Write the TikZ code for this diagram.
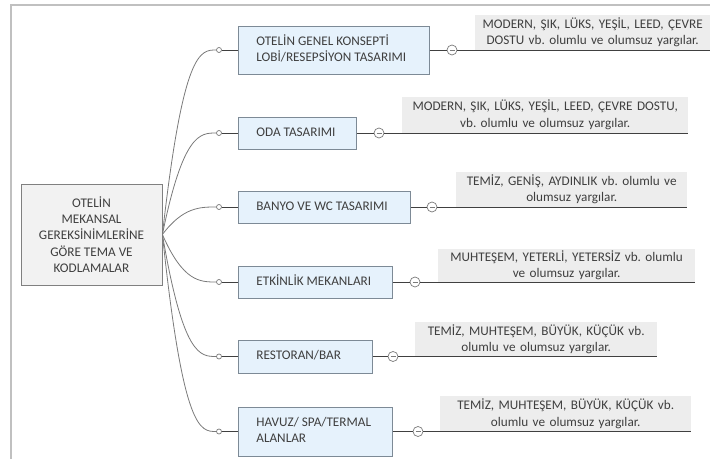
\documentclass[tikz,border=0pt]{standalone}
\usepackage{fontspec}
\setmainfont{Carlito}
\usetikzlibrary{calc}
\frenchspacing
\definecolor{txt}{HTML}{3F3F3F}
\definecolor{framec}{HTML}{C0C0C0}
\definecolor{bluefill}{HTML}{E6F2FC}
\definecolor{bluedraw}{HTML}{7D8A96}
\definecolor{centfill}{HTML}{F2F2F2}
\definecolor{centdraw}{HTML}{808080}
\definecolor{gfill}{HTML}{EDEDED}
\definecolor{curvec}{HTML}{7A7A7A}
\definecolor{linec}{HTML}{404040}
\newcommand\bltext[2]{\makebox[#1][l]{\hspace{18bp}\begin{tabular}{@{}l@{}}#2\end{tabular}}}
\tikzset{
  every node/.style={font=\fontsize{13.2bp}{16.2bp}\selectfont, text=txt},
  centbox/.style={draw=centdraw, fill=centfill, align=center, inner sep=0pt,
    minimum width=141bp, minimum height=101bp, line width=0.8bp},
  bluebox/.style={draw=bluedraw, fill=bluefill, inner sep=0pt,
    anchor=west, line width=0.8bp},
  gtext/.style={fill=gfill, align=center, anchor=south west, inner sep=0pt},
  dotc/.style={circle, draw=curvec, fill=white, minimum size=5bp, inner sep=0pt, line width=0.7bp},
  minusc/.style={circle, draw=curvec, fill=white, minimum size=10bp, inner sep=0pt, line width=0.7bp,
    path picture={\draw[curvec, line width=0.7bp]
      ([xshift=-2.5bp]path picture bounding box.center) --
      ([xshift=2.5bp]path picture bounding box.center);}},
  curve/.style={draw=curvec, line width=0.8bp},
  conn/.style={draw=linec, line width=0.9bp}
}
\begin{document}
\begin{tikzpicture}[x=1bp,y=-1bp]
\useasboundingbox (0,0) rectangle (710,459);
\draw[framec, line width=2bp] (11,459) -- (11,5) -- (710,5);

\node[centbox] (c) at (91.5,234.5) {OTELİN\\MEKANSAL\\GEREKSİNİMLERİNE\\GÖRE TEMA VE\\KODLAMALAR};

\node[bluebox, minimum height=48bp] (b1) at (238,50)
  {\bltext{191bp}{OTELİN GENEL KONSEPTİ\\LOBİ/RESEPSİYON TASARIMI}};
\node[bluebox, minimum height=32bp] (b2) at (238,133)
  {\bltext{118bp}{ODA TASARIMI}};
\node[bluebox, minimum height=32bp] (b3) at (238,207)
  {\bltext{172bp}{BANYO VE WC TASARIMI}};
\node[bluebox, minimum height=32bp] (b4) at (238,282)
  {\bltext{154bp}{ETKİNLİK MEKANLARI}};
\node[bluebox, minimum height=33bp] (b5) at (238,356.5)
  {\bltext{134bp}{RESTORAN/BAR}};
\node[bluebox, minimum height=49bp] (b6) at (238,431.5)
  {\bltext{154bp}{HAVUZ/ SPA/TERMAL\\ALANLAR}};

\node[dotc] (d1) at (219,50) {};
\node[dotc] (d2) at (219,133) {};
\node[dotc] (d3) at (219,207) {};
\node[dotc] (d4) at (219,282) {};
\node[dotc] (d5) at (219,356.5) {};
\node[dotc] (d6) at (219,431.5) {};

\foreach \i in {1,...,6}{
  \draw[curve] (c.east) .. controls ([xshift=-33bp]d\i.west) and ([xshift=-16bp]d\i.west) .. (d\i.west);
  \draw[conn] (d\i.east) -- (b\i.west);
}

\node[minusc] (m1) at (452,50) {};
\node[minusc] (m2) at (379,133) {};
\node[minusc] (m3) at (432,207) {};
\node[minusc] (m4) at (415,282) {};
\node[minusc] (m5) at (393,356.5) {};
\node[minusc] (m6) at (418,431.5) {};

\node[gtext, text width=235bp, minimum height=35bp] (g1) at (475,50)
  {MODERN, ŞIK, LÜKS, YEŞİL, LEED, ÇEVRE\\DOSTU vb. olumlu ve olumsuz yargılar.};
\node[gtext, text width=286bp, minimum height=36bp] (g2) at (402,133)
  {MODERN, ŞIK, LÜKS, YEŞİL, LEED, ÇEVRE DOSTU,\\vb. olumlu ve olumsuz yargılar.};
\node[gtext, text width=231bp, minimum height=35bp] (g3) at (456,207)
  {TEMİZ, GENİŞ, AYDINLIK vb. olumlu ve\\olumsuz yargılar.};
\node[gtext, text width=257bp, minimum height=33bp] (g4) at (438,282)
  {MUHTEŞEM, YETERLİ, YETERSİZ vb. olumlu\\ve olumsuz yargılar.};
\node[gtext, text width=242bp, minimum height=34bp] (g5) at (415,356.5)
  {TEMİZ, MUHTEŞEM, BÜYÜK, KÜÇÜK vb.\\olumlu ve olumsuz yargılar.};
\node[gtext, text width=251bp, minimum height=35bp] (g6) at (440,431.5)
  {TEMİZ, MUHTEŞEM, BÜYÜK, KÜÇÜK vb.\\olumlu ve olumsuz yargılar.};

\foreach \i in {1,...,6}{
  \draw[conn] (b\i.east) -- (m\i.west);
  \draw[conn] (m\i.east) -- (g\i.south east);
}
\end{tikzpicture}
\end{document}
